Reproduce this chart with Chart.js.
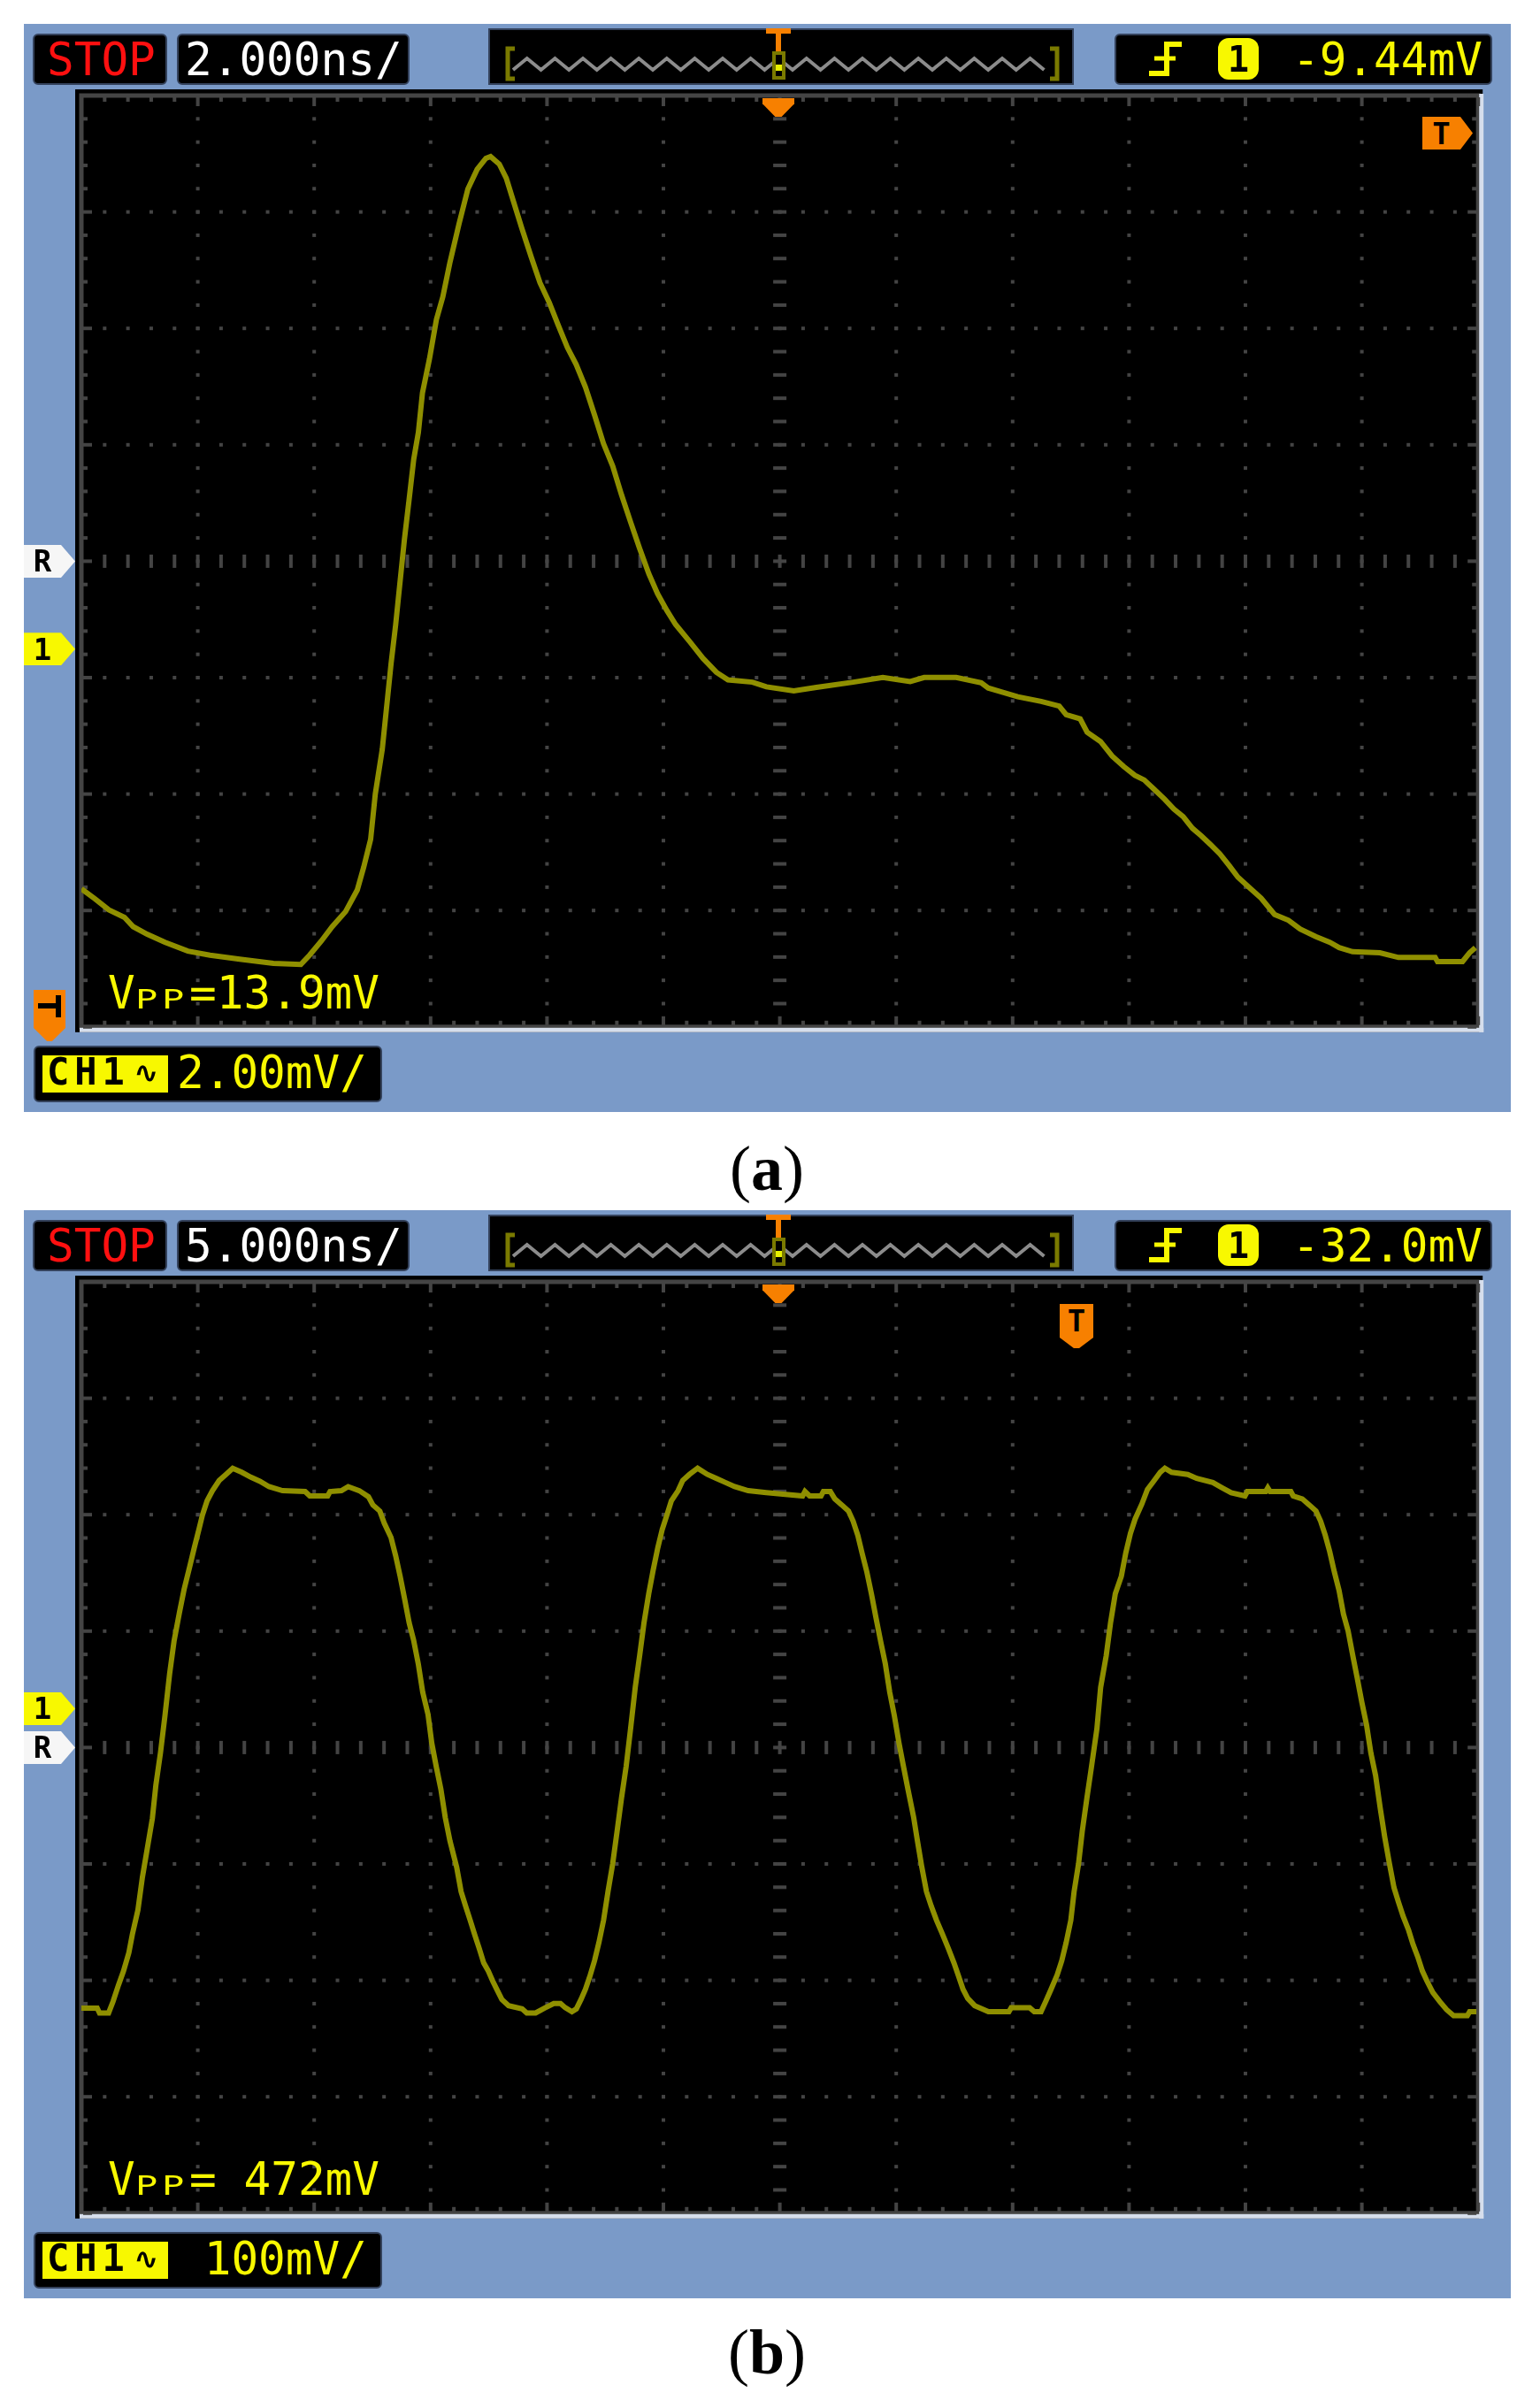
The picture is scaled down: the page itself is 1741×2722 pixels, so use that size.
<!DOCTYPE html>
<html>
<head>
<meta charset="utf-8">
<title>Oscilloscope captures</title>
<script src="https://cdn.jsdelivr.net/npm/chart.js@4.4.1/dist/chart.umd.min.js"></script>
<style>
  html, body { margin: 0; padding: 0; background: #fff; }
  body { position: relative; width: 1741px; height: 2722px; overflow: hidden; }
  .a { position: absolute; }
  .panel { background: #7a9ac8; }
  .box { background: #000; border: 2px solid #34425c; border-radius: 6px; box-sizing: border-box; }
  .mono { font-family: "DejaVu Sans Mono", monospace; font-size: 51px; line-height: 51px; white-space: pre; }
  .small { display: inline-block; width: 30.7px; font-size: 30px; }
  .small span { display: inline-block; transform: scaleX(1.4); transform-origin: 0 100%; }
  .mark { font-family: "DejaVu Sans Mono", monospace; font-weight: bold; color: #000; display: flex; align-items: center; justify-content: center; }
  .lbl { font-family: "Liberation Serif", "Times New Roman", serif; font-size: 72px; line-height: 72px; transform: translateX(-50%); white-space: nowrap; color: #000; }
  canvas { position: absolute; }
</style>
</head>
<body>
<script>
// (a) 2 ns/div, 2 mV/div -- time in ns, voltage in mV (relative to channel ground)
const timeA = [-12.00,-11.77,-11.53,-11.26,-11.11,-10.87,-10.56,-10.17,-9.79,-9.28,-8.70,-8.23,-8.08,-7.88,-7.69,-7.46,-7.26,-7.15,-7.03,-6.95,
  -6.83,-6.76,-6.68,-6.60,-6.52,-6.45,-6.37,-6.29,-6.21,-6.14,-6.02,-5.90,-5.79,-5.67,-5.51,-5.36,-5.20,-5.05,-4.97,-4.82,
  -4.70,-4.58,-4.43,-4.27,-4.12,-3.96,-3.81,-3.65,-3.50,-3.34,-3.18,-3.03,-2.87,-2.72,-2.56,-2.41,-2.25,-2.10,-1.94,-1.79,
  -1.55,-1.32,-1.09,-0.89,-0.47,-0.23,0.24,0.63,1.26,1.77,2.24,2.48,3.03,3.46,3.58,3.82,4.09,4.49,4.80,4.92,
  5.16,5.28,5.51,5.71,5.91,6.10,6.26,6.42,6.61,6.77,6.93,7.09,7.24,7.40,7.56,7.72,7.87,8.07,8.27,8.50,
  8.74,8.94,9.21,9.45,9.61,9.84,10.31,10.63,11.26,11.30,11.73,11.85,11.95];
const voltA = [-4.12,-4.29,-4.48,-4.61,-4.77,-4.90,-5.04,-5.19,-5.26,-5.33,-5.40,-5.42,-5.26,-5.02,-4.77,-4.51,-4.14,-3.75,-3.27,-2.49,
  -1.72,-1.04,-0.26,0.42,1.20,1.88,2.56,3.26,3.72,4.40,4.98,5.66,6.05,6.63,7.31,7.90,8.24,8.43,8.46,8.33,
  8.09,7.70,7.22,6.73,6.29,5.95,5.57,5.18,4.89,4.50,4.01,3.53,3.14,2.65,2.17,1.73,1.29,0.95,0.66,0.42,
  0.13,-0.16,-0.40,-0.53,-0.57,-0.65,-0.72,-0.66,-0.57,-0.49,-0.56,-0.49,-0.49,-0.58,-0.67,-0.74,-0.82,-0.90,-0.98,-1.13,
  -1.20,-1.43,-1.59,-1.84,-2.02,-2.17,-2.25,-2.40,-2.58,-2.75,-2.88,-3.08,-3.21,-3.36,-3.52,-3.72,-3.92,-4.10,-4.28,-4.56,
  -4.66,-4.81,-4.94,-5.04,-5.13,-5.20,-5.22,-5.30,-5.30,-5.37,-5.37,-5.22,-5.13];

// (b) 5 ns/div, 100 mV/div
const timeB = [-30.00,-29.32,-29.22,-28.83,-28.64,-28.41,-28.19,-27.96,-27.81,-27.57,-27.38,-27.18,-26.95,-26.80,-26.60,-26.41,-26.21,-26.02,-25.79,-25.59,
  -25.34,-25.15,-24.95,-24.80,-24.60,-24.37,-24.08,-23.79,-23.50,-23.11,-22.72,-22.33,-21.94,-21.36,-20.39,-20.19,-19.42,-19.32,-18.83,-18.54,
  -18.06,-17.67,-17.48,-17.18,-16.99,-16.70,-16.50,-16.31,-16.12,-15.92,-15.73,-15.53,-15.34,-15.11,-14.95,-14.76,-14.56,-14.37,-14.17,-13.88,
  -13.69,-13.50,-13.30,-13.11,-12.91,-12.72,-12.52,-12.33,-12.14,-11.94,-11.65,-11.07,-10.87,-10.49,-10.10,-9.71,-9.42,-9.22,-8.93,-8.74,
  -8.54,-8.35,-8.16,-7.96,-7.77,-7.57,-7.38,-7.18,-6.99,-6.80,-6.60,-6.41,-6.21,-6.02,-5.83,-5.63,-5.44,-5.24,-5.05,-4.85,
  -4.66,-4.37,-4.17,-3.88,-3.53,-3.11,-2.72,-2.33,-1.94,-1.36,-0.58,0.98,1.08,1.28,1.77,1.87,2.17,2.36,2.66,2.95,
  3.15,3.35,3.54,3.74,3.94,4.13,4.33,4.53,4.72,4.92,5.12,5.31,5.51,5.75,5.91,6.10,6.30,6.50,6.73,6.99,
  7.24,7.48,7.68,7.87,8.07,8.37,8.96,9.84,9.94,10.73,10.93,11.22,11.42,11.65,11.91,12.11,12.30,12.50,12.64,12.83,
  12.99,13.19,13.39,13.62,13.78,14.02,14.21,14.41,14.67,14.86,15.06,15.26,15.55,15.79,16.04,16.34,16.54,16.83,17.52,17.91,
  18.60,19.00,19.39,19.98,20.08,20.87,20.96,21.06,21.95,22.05,22.44,22.74,23.03,23.23,23.43,23.62,23.82,24.02,24.21,24.41,
  24.61,24.80,25.00,25.20,25.39,25.59,25.79,25.98,26.18,26.38,26.57,26.77,27.01,27.20,27.40,27.60,27.80,28.05,28.35,28.64,
  28.94,29.53,29.63,29.92];
const voltB = [-257.2,-257.2,-261.4,-261.4,-251.6,-237.6,-225.4,-209.6,-193.9,-172.9,-144.9,-121.5,-94.2,-65.6,-37.6,-6.1,29.9,57.9,82.3,102.3,
  122.5,138.3,154.0,166.3,178.5,187.2,196.0,201.2,206.5,203.0,198.8,195.3,190.7,187.2,186.5,182.7,182.7,186.5,187.2,190.7,
  187.2,182.0,175.0,169.7,159.3,147.0,131.3,113.8,94.6,73.6,58.9,38.6,14.2,-5.1,-29.6,-49.5,-69.1,-93.5,-113.5,-136.2,
  -157.2,-169.4,-181.7,-193.9,-206.1,-218.4,-225.4,-234.1,-241.8,-249.8,-255.1,-257.9,-261.4,-261.4,-257.2,-253.3,-253.3,-256.8,-260.3,-257.9,
  -249.8,-241.1,-229.9,-216.6,-200.9,-181.7,-157.2,-133.4,-105.4,-76.8,-49.5,-17.3,18.3,45.6,74.3,98.8,119.0,138.3,154.0,166.3,
  178.5,187.2,196.0,201.2,206.5,201.2,197.7,194.2,190.7,187.2,185.5,182.7,186.5,182.7,182.7,186.5,186.5,180.2,175.0,169.7,
  161.0,148.8,133.0,117.3,98.1,78.1,57.9,38.6,14.2,-6.1,-29.6,-49.5,-69.8,-93.5,-113.5,-136.2,-157.2,-169.4,-181.7,-193.9,
  -206.1,-218.4,-229.9,-241.1,-248.8,-255.1,-260.3,-260.3,-256.8,-256.8,-260.3,-260.3,-251.6,-241.1,-228.9,-216.6,-200.9,-181.7,-157.2,-133.4,
  -105.4,-76.8,-49.5,-17.3,18.3,45.6,74.3,98.8,113.8,133.7,150.5,162.8,175.7,188.3,194.9,203.0,206.5,203.0,201.2,197.7,
  194.2,189.7,185.5,182.7,186.5,186.5,189.7,186.5,186.5,182.7,180.2,175.0,169.7,161.0,148.8,134.8,117.3,101.6,81.3,66.6,
  45.6,26.4,5.4,-13.8,-38.3,-57.5,-85.5,-110.0,-132.7,-153.7,-165.9,-178.2,-190.4,-202.6,-213.1,-225.4,-234.1,-243.9,-251.6,-258.6,
  -263.8,-263.8,-260.3,-260.3];

// readouts
const timebase = ['2.000ns/', '5.000ns/'];
const nsPerDiv = [2, 5];
const mvPerDiv = [2, 100];
const groundDiv = [-0.754, 0.334];   // channel 1 ground marker, divisions from centre
const voltScale = ['2.00mV/', ' 100mV/'];
const trigLevel = ['-9.44mV', '-32.0mV'];
const vppValue = ['13.9mV', ' 472mV'];
const panelLabel = ['a', 'b'];

const DIV = 131.6;
const ORANGE = '#f78000', YEL = '#f8f800';

function add(tag, cls, css, txt) {
  const e = document.createElement(tag);
  if (cls) e.className = cls;
  Object.assign(e.style, css || {});
  if (txt != null) e.textContent = txt;
  document.body.appendChild(e);
  return e;
}
const px = v => v + 'px';
function rect(x, y, w, h, cls, css) {
  return add('div', 'a ' + (cls || ''), Object.assign({left: px(x), top: px(y), width: px(w), height: px(h)}, css || {}));
}
function label(x, capTop, str, color) {
  return add('div', 'a mono', {left: px(x), top: px(capTop - 6), color: color}, str);
}
function svg(x, y, w, h, inner) {
  const d = add('div', 'a', {left: px(x), top: px(y), width: px(w), height: px(h)});
  d.innerHTML = '<svg width="' + w + '" height="' + h + '" viewBox="' + x + ' ' + y + ' ' + w + ' ' + h + '">' + inner + '</svg>';
  return d;
}

const screenPlugin = {
  id: 'screen',
  beforeDraw(chart) {
    const {ctx, chartArea: a} = chart;
    const w = a.right - a.left, h = a.bottom - a.top;
    ctx.save();
    ctx.fillStyle = '#000';
    ctx.fillRect(a.left - 7, a.top - 7, w + 12, h + 13);
    ctx.strokeStyle = '#444';
    ctx.lineWidth = 5;
    ctx.strokeRect(a.left, a.top, w, h);
    ctx.fillStyle = '#d6deec';
    ctx.fillRect(a.right + 1, a.top - 2, 5, h + 8);
    ctx.fillRect(a.left - 2, a.bottom + 1, w + 8, 5);
    ctx.fillStyle = '#444';
    for (let k = 0; k <= 60; k++) {
      const x = a.left + k * w / 60, len = k % 5 ? 5 : 10;
      ctx.fillRect(x - 2, a.top + 2, 4, len);
      ctx.fillRect(x - 2, a.bottom - 2 - len, 4, len);
    }
    for (let k = 0; k <= 40; k++) {
      const y = a.top + k * h / 40, len = k % 5 ? 5 : 10;
      ctx.fillRect(a.left + 2, y - 2, len, 4);
      ctx.fillRect(a.right - 2 - len, y - 2, len, 4);
    }
    for (let i = 1; i < 12; i++) {
      const x = chart.scales.x.getPixelForDecimal(i / 12);
      for (let k = 1; k < 40; k++) {
        const y = a.top + k * h / 40;
        if (i === 6) ctx.fillRect(x - 7.5, y - 2, 15, 4); else ctx.fillRect(x - 2, y - 2, 4, 4);
      }
    }
    for (let j = 1; j < 8; j++) {
      const y = chart.scales.y.getPixelForDecimal(j / 8);
      for (let k = 1; k < 60; k++) {
        const x = a.left + k * w / 60;
        if (j === 4) ctx.fillRect(x - 2, y - 7.5, 4, 15); else ctx.fillRect(x - 2, y - 2, 4, 4);
      }
    }
    ctx.restore();
  }
};

function buildPanel(p, times, volts) {
  const dy = p * 1341;
  rect(27, 27 + dy, 1681, 1230, 'panel');

  const cv = add('canvas', '', {left: '27px', top: px(27 + dy)});
  cv.width = 1681; cv.height = 1230;
  const half = 6 * nsPerDiv[p];
  new Chart(cv, {
    type: 'line',
    data: {
      datasets: [{
        data: times.map((t, i) => ({x: t, y: volts[i]})),
        borderColor: '#8f8f00',
        borderWidth: 6,
        pointRadius: 0,
        tension: 0,
        fill: false,
        borderJoinStyle: 'miter'
      }]
    },
    options: {
      responsive: false,
      animation: false,
      events: [],
      layout: {padding: {left: 65, top: 81, right: 36.8, bottom: 96.2}},
      plugins: {legend: {display: false}, tooltip: {enabled: false}},
      scales: {
        x: {type: 'linear', display: false, min: -half, max: half},
        y: {type: 'linear', display: false,
            min: (-4 - groundDiv[p]) * mvPerDiv[p],
            max: (4 - groundDiv[p]) * mvPerDiv[p]}
      }
    },
    plugins: [screenPlugin]
  });

  // header readouts
  rect(37, 38 + dy, 152, 58, 'box');
  label(53, 48 + dy, 'STOP', '#ff1010');
  rect(200, 38 + dy, 263, 58, 'box');
  label(209, 48 + dy, timebase[p], '#ffffff');

  rect(552, 32 + dy, 662, 64, 'box', {borderRadius: '0px'});
  let zig = '';
  for (let x = 580, k = 0; x <= 1188; x += 15.8, k++) zig += x.toFixed(1) + ',' + ((k % 2) ? 66 + dy : 79 + dy) + ' ';
  svg(552, 32 + dy, 662, 64,
    '<polyline points="' + zig + '" fill="none" stroke="#8c8c8c" stroke-width="4"/>' +
    '<polyline points="582,' + (55 + dy) + ' 574,' + (55 + dy) + ' 574,' + (89 + dy) + ' 582,' + (89 + dy) + '" fill="none" stroke="#7a7a00" stroke-width="5"/>' +
    '<polyline points="1187,' + (55 + dy) + ' 1195,' + (55 + dy) + ' 1195,' + (89 + dy) + ' 1187,' + (89 + dy) + '" fill="none" stroke="#7a7a00" stroke-width="5"/>' +
    '<rect x="873" y="' + (58 + dy) + '" width="15" height="32" fill="#7a7a00"/>' +
    '<rect x="877" y="' + (62 + dy) + '" width="7" height="24" fill="#000"/>' +
    '<rect x="877" y="' + (73 + dy) + '" width="7" height="7" fill="#e8f000"/>' +
    '<rect x="866" y="' + (32 + dy) + '" width="28" height="6" fill="' + ORANGE + '"/>' +
    '<rect x="877" y="' + (38 + dy) + '" width="6" height="20" fill="' + ORANGE + '"/>');

  rect(1260, 38 + dy, 427, 58, 'box');
  svg(1290, 40 + dy, 50, 50,
    '<polyline points="1299,' + (83 + dy) + ' 1319,' + (83 + dy) + ' 1319,' + (50 + dy) + ' 1336,' + (50 + dy) + '" fill="none" stroke="' + YEL + '" stroke-width="6"/>' +
    '<line x1="1305" y1="' + (66 + dy) + '" x2="1329" y2="' + (66 + dy) + '" stroke="' + YEL + '" stroke-width="5"/>');
  const badge = rect(1377, 43 + dy, 46, 47, 'mark', {background: YEL, borderRadius: '12px', fontSize: '40px'});
  badge.textContent = '1';
  label(1461, 48 + dy, trigLevel[p], YEL);

  // trigger position arrow on the top edge
  rect(862, 111 + dy, 36, 21, '', {background: ORANGE,
    clipPath: 'polygon(0 0,100% 0,100% 30%,60% 100%,40% 100%,0 30%)'});

  // left markers: reference and channel 1 ground
  const centre = 108 + dy + 4 * DIV;
  const r = rect(27, centre - 18.5, 58, 37, 'mark', {background: '#f6f6f6', fontSize: '34px', paddingRight: '16px', boxSizing: 'border-box',
    clipPath: 'polygon(0 0,42px 0,58px 50%,42px 100%,0 100%)'});
  r.textContent = 'R';
  const g = rect(27, centre - groundDiv[p] * DIV - 18.5, 58, 37, 'mark', {background: YEL, fontSize: '34px', paddingRight: '16px', boxSizing: 'border-box',
    clipPath: 'polygon(0 0,42px 0,58px 50%,42px 100%,0 100%)'});
  g.textContent = '1';

  // measurement and channel readouts
  const v = label(122, 1103 + dy, 'V', YEL);
  for (let s = 0; s < 2; s++) {
    const slot = document.createElement('span'); slot.className = 'small';
    const ch = document.createElement('span'); ch.textContent = 'P';
    slot.appendChild(ch); v.appendChild(slot);
  }
  v.appendChild(document.createTextNode('=' + vppValue[p]));

  rect(38, 1182 + dy, 394, 64, 'box');
  rect(48, 1193 + dy, 142, 42, '', {background: YEL});
  add('div', 'a', {left: '53px', top: px(1191 + dy), fontFamily: '"DejaVu Sans Mono", monospace', fontWeight: 'bold',
    fontSize: '42px', lineHeight: '42px', letterSpacing: '6px', color: '#000', whiteSpace: 'pre'}, 'CH1');
  add('div', 'a', {left: '151px', top: px(1195 + dy), fontFamily: '"DejaVu Sans", sans-serif', fontWeight: 'bold',
    fontSize: '34px', lineHeight: '34px', color: '#000'}, '\u223F');
  label(200, 1193 + dy, voltScale[p], YEL);

  // panel caption
  const cap = add('div', 'a lbl', {left: '867px', top: px(1285 + dy - (p ? 3 : 0))});
  cap.appendChild(document.createTextNode('('));
  const b = document.createElement('b'); b.textContent = panelLabel[p]; cap.appendChild(b);
  cap.appendChild(document.createTextNode(')'));
}

buildPanel(0, timeA, voltA);
buildPanel(1, timeB, voltB);

// trigger level markers
const tA = rect(1608, 132, 57, 37, 'mark', {background: ORANGE, fontSize: '34px', paddingRight: '14px', boxSizing: 'border-box',
  clipPath: 'polygon(0 0,43px 0,57px 50%,43px 100%,0 100%)'});
tA.textContent = 'T';
const tB = rect(1198, 1474, 38, 50, 'mark', {background: ORANGE, fontSize: '34px', paddingBottom: '12px', boxSizing: 'border-box',
  clipPath: 'polygon(0 0,100% 0,100% 38px,58% 50px,42% 50px,0 38px)'});
tB.textContent = 'T';

// ground reference marker, panel (a) only
rect(38, 1119, 36, 58, '', {background: ORANGE,
  clipPath: 'polygon(0 0,100% 0,100% 43px,58% 58px,42% 58px,0 43px)'});
rect(43, 1134, 21, 6, '', {background: '#000'});
rect(63, 1125, 6, 25, '', {background: '#000'});
</script>
</body>
</html>
